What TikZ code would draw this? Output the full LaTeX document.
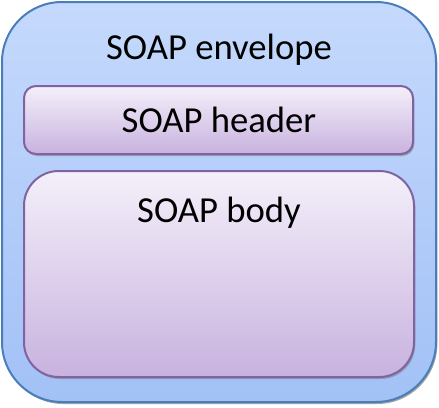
\documentclass[tikz,border=0pt]{standalone}
\usepackage{fontspec}
\setmainfont{Carlito}
\usetikzlibrary{shadows}
\definecolor{envtop}{HTML}{C5D9FC}
\definecolor{envbot}{HTML}{A2C1F6}
\definecolor{envline}{HTML}{4A7EBB}
\definecolor{boxtop}{HTML}{F4F0FA}
\definecolor{boxbot}{HTML}{C8B2DF}
\definecolor{boxline}{HTML}{8064A2}
\tikzset{
  envbox/.style={draw=envline, line width=1.5pt, top color=envtop, bottom color=envbot,
    drop shadow={shadow xshift=1pt, shadow yshift=-1.5pt, fill=black!45, opacity=0.8}},
  partbox/.style={draw=boxline, line width=1.5pt, top color=boxtop, bottom color=boxbot,
    drop shadow={shadow xshift=1pt, shadow yshift=-1.5pt, fill=black!50, opacity=0.6}},
  lbl/.style={font=\fontsize{27.5}{32}\selectfont, text=black, inner sep=0pt, anchor=center}
}
\begin{document}
\begin{tikzpicture}[x=0.75pt,y=-0.75pt]
\useasboundingbox (0,0) rectangle (439,407);
\path[envbox, rounded corners=45pt] (2,2) rectangle (436,402);
\path[partbox, rounded corners=9pt] (24,86) rectangle (413,154);
\path[partbox, rounded corners=26pt] (24,171) rectangle (414,377);
\node[lbl] (env) at (219,50) {SOAP envelope};
\node[lbl] (hdr) at (219,120) {SOAP header};
\node[lbl] (bdy) at (219,213) {SOAP body};
\end{tikzpicture}
\end{document}
